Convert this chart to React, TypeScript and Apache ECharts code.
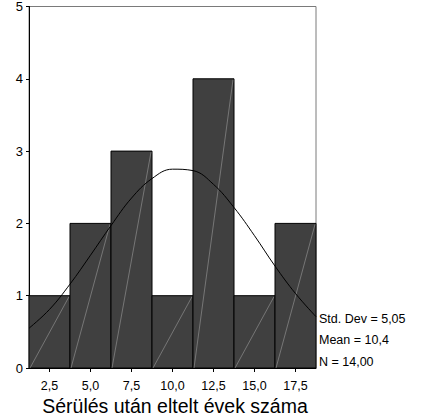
import React, { useEffect, useRef } from "react";
import * as echarts from "echarts";

// Histogram bins (centers) and counts
const binCenters = [2.5, 5.0, 7.5, 10.0, 12.5, 15.0, 17.5];
const counts = [1, 2, 3, 1, 4, 1, 2];
const binWidth = 2.5;

// Fitted normal curve
const curveX = [1.25, 2.5, 3.75, 5.0, 6.25, 7.5, 8.75, 10.0, 11.25, 12.5, 13.75, 15.0, 16.25, 17.5, 18.75];
const curveY = [0.55, 0.81, 1.16, 1.56, 1.97, 2.35, 2.62, 2.75, 2.73, 2.54, 2.22, 1.83, 1.41, 1.03, 0.71];

const yTicks = [0, 1, 2, 3, 4, 5];
const statsLines = ["Std. Dev = 5,05", "Mean = 10,4", "N = 14,00"];
const xTitle = "Sérülés után eltelt évek száma";

const FONT = "'Liberation Sans', Arial, sans-serif";

export default function App() {
  const ref = useRef<HTMLDivElement>(null);

  useEffect(() => {
    if (!ref.current) return;
    const chart = echarts.init(ref.current, null, { renderer: "svg" });

    const barData = binCenters.map((c, i) => [c - binWidth / 2, c + binWidth / 2, counts[i]]);
    const lineData = curveX.map((x, i) => [x, curveY[i]]);

    chart.setOption({
      animation: false,
      backgroundColor: "#ffffff",
      grid: {
        left: 29,
        top: 6,
        width: 287,
        height: 362,
        show: true,
        borderColor: "#7a7a7a",
        borderWidth: 1,
        backgroundColor: "transparent",
      },
      xAxis: {
        type: "value",
        min: binCenters[0] - binWidth / 2,
        max: binCenters[binCenters.length - 1] + binWidth / 2,
        axisLine: { show: true, onZero: false, lineStyle: { color: "#000", width: 1 } },
        axisTick: { show: true, length: 4, customValues: binCenters, lineStyle: { color: "#000" } },
        axisLabel: {
          customValues: binCenters,
          margin: 11,
          color: "#000",
          fontSize: 12.5,
          fontFamily: FONT,
          formatter: (v: number) => v.toFixed(1).replace(".", ","),
        },
        splitLine: { show: false },
      },
      yAxis: {
        type: "value",
        min: yTicks[0],
        max: yTicks[yTicks.length - 1],
        interval: 1,
        axisLine: { show: true, lineStyle: { color: "#000", width: 1 } },
        axisTick: { show: true, length: 3, lineStyle: { color: "#000" } },
        axisLabel: {
          margin: 6,
          color: "#000",
          fontSize: 13,
          fontFamily: FONT,
          padding: [9, 0, 0, 0],
        },
        splitLine: { show: false },
      },
      series: [
        {
          type: "custom",
          data: barData,
          encode: { x: [0, 1], y: 2 },
          renderItem: (params: any, api: any) => {
            const p0 = api.coord([api.value(0), 0]);
            const p1 = api.coord([api.value(1), api.value(2)]);
            return {
              type: "group",
              children: [
                {
                  type: "rect",
                  shape: { x: p0[0], y: p1[1], width: p1[0] - p0[0], height: p0[1] - p1[1] },
                  style: { fill: "#404040", stroke: "#000", lineWidth: 1 },
                },
                {
                  type: "line",
                  shape: { x1: p0[0] + 1, y1: p0[1], x2: p1[0] - 1, y2: p1[1] + 1 },
                  style: { stroke: "#9a9a9a", lineWidth: 0.6 },
                },
              ],
            };
          },
          z: 2,
        },
        {
          type: "line",
          data: lineData,
          smooth: 0.4,
          showSymbol: false,
          symbol: "none",
          lineStyle: { color: "#000", width: 1 },
          z: 3,
        },
      ],
      graphic: [
        ...statsLines.map((t, i) => ({
          type: "text",
          left: 319,
          top: 312 + i * 21.5,
          style: { text: t, fill: "#000", fontSize: 12.5, fontFamily: FONT },
        })),
        {
          type: "text",
          x: 175,
          y: 405.5,
          style: {
            text: xTitle,
            fill: "#000",
            fontSize: 19.5,
            fontFamily: FONT,
            align: "center",
            verticalAlign: "middle",
          },
        },
      ],
    });

    return () => chart.dispose();
  }, []);

  return (
    <div
      ref={ref}
      style={{ position: "fixed", left: 0, top: 0, width: 421, height: 415, background: "#fff" }}
    />
  );
}
